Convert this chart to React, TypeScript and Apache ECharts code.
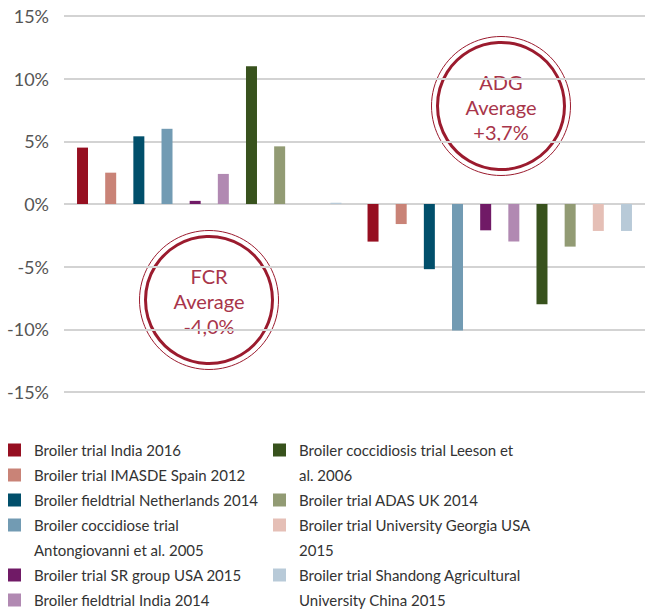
import React, { useEffect, useRef } from "react";
import * as echarts from "echarts";

const categories = ["ADG", "FCR"];
const seriesNames = [
  "Broiler trial India 2016",
  "Broiler trial IMASDE Spain 2012",
  "Broiler fieldtrial Netherlands 2014",
  "Broiler coccidiose trial Antongiovanni et al. 2005",
  "Broiler trial SR group USA 2015",
  "Broiler fieldtrial India 2014",
  "Broiler coccidiosis trial Leeson et al. 2006",
  "Broiler trial ADAS UK 2014",
  "Broiler trial University Georgia USA 2015",
  "Broiler trial Shandong Agricultural University China 2015",
];
// legend text split into the lines shown in the legend
const legendLines = [
  ["Broiler trial India 2016"],
  ["Broiler trial IMASDE Spain 2012"],
  ["Broiler fieldtrial Netherlands 2014"],
  ["Broiler coccidiose trial", "Antongiovanni et al. 2005"],
  ["Broiler trial SR group USA 2015"],
  ["Broiler fieldtrial India 2014"],
  ["Broiler coccidiosis trial Leeson et", "al. 2006"],
  ["Broiler trial ADAS UK 2014"],
  ["Broiler trial University Georgia USA", "2015"],
  ["Broiler trial Shandong Agricultural", "University China 2015"],
];
const colors = [
  "#960f21",
  "#c98377",
  "#014f6b",
  "#729bb3",
  "#701a66",
  "#b189b2",
  "#38521d",
  "#929b74",
  "#e5bfb6",
  "#b8cad8",
];
// values in %: first group (ADG) and second group (FCR)
const adgValues = [4.5, 2.5, 5.4, 6.0, 0.25, 2.4, 11.0, 4.6, 0, 0.1];
const fcrValues = [-3.0, -1.6, -5.2, -10.1, -2.1, -3.0, -8.0, -3.4, -2.15, -2.15];
const yTicks = { min: -15, max: 15, interval: 5 };
const annotations = [
  { lines: ["FCR", "Average", "-4,0%"] },
  { lines: ["ADG", "Average", "+3,7%"] },
];

const FONT = "Lato";

export default function App() {
  const ref = useRef<HTMLDivElement>(null);
  useEffect(() => {
    if (!ref.current) return;
    const chart = echarts.init(ref.current, null, { renderer: "svg" });
    const series: any[] = seriesNames.map((name, i) => ({
      name,
      type: "bar",
      data: [adgValues[i], fcrValues[i]],
      barWidth: 11,
      barGap: "156%",
      itemStyle: { color: colors[i] },
      emphasis: { disabled: true },
    }));
    // continuation lines of wrapped legend entries (no data, legend only)
    const contName = (i: number) => legendLines[i][1];
    legendLines.forEach((l, i) => {
      if (l.length > 1) series.push({ name: contName(i), type: "line", data: [], silent: true });
    });
    const labelMap: Record<string, string> = {};
    seriesNames.forEach((n, i) => (labelMap[n] = legendLines[i][0]));
    const legendData = (idx: number[]) => {
      const out: any[] = [];
      idx.forEach((i) => {
        out.push({ name: seriesNames[i], icon: "rect" });
        if (legendLines[i].length > 1) out.push({ name: contName(i), icon: "none" });
      });
      return out;
    };
    const legendBase = {
      orient: "vertical",
      top: 437.5,
      padding: 0,
      itemGap: 0,
      itemWidth: 13,
      itemHeight: 13,
      selectedMode: false,
      formatter: (n: string) => labelMap[n] ?? n,
      textStyle: { fontFamily: FONT, fontSize: 15, color: "#333", lineHeight: 25, padding: [0, 0, 0, 8] },
    };
    const circle = (cx: number, cy: number, lines: string[]) => ({
      type: "group",
      x: cx,
      y: cy,
      z: 100,
      children: [
        { type: "circle", shape: { cx: 0, cy: 0, r: 69.5 }, style: { fill: "#fff", stroke: "#9b1b2e", lineWidth: 1 } },
        { type: "circle", shape: { cx: 0, cy: 0, r: 63.5 }, style: { fill: "none", stroke: "#9b1b2e", lineWidth: 3 } },
        {
          type: "text",
          x: 0,
          y: 1,
          style: {
            text: lines.join("\n"),
            fill: "#a8354a",
            font: `20px ${FONT}`,
            lineHeight: 25,
            align: "center",
            verticalAlign: "middle",
          },
        },
      ],
    });
    chart.setOption({
      animation: false,
      grid: { left: 64, right: 1, top: 16, bottom: 221, containLabel: false },
      xAxis: {
        type: "category",
        data: categories,
        axisLine: { show: false },
        axisTick: { show: false },
        axisLabel: { show: false },
      },
      yAxis: {
        type: "value",
        min: yTicks.min,
        max: yTicks.max,
        interval: yTicks.interval,
        axisLine: { show: false },
        axisTick: { show: false },
        splitLine: { lineStyle: { color: "#d3d3d3", width: 2 } },
        axisLabel: {
          formatter: (v: number) => `${v}%`,
          fontFamily: FONT,
          fontSize: 18,
          color: "#555",
          margin: 15,
        },
      },
      legend: [
        { ...legendBase, left: 8, data: legendData([0, 1, 2, 3, 4, 5]) },
        { ...legendBase, left: 273, data: legendData([6, 7, 8, 9]) },
      ],
      graphic: [circle(209, 300, annotations[0].lines), circle(501, 106, annotations[1].lines)],
      series,
    });
    return () => chart.dispose();
  }, []);
  return <div ref={ref} style={{ width: 646, height: 613, position: "absolute", left: 0, top: 0 }} />;
}
